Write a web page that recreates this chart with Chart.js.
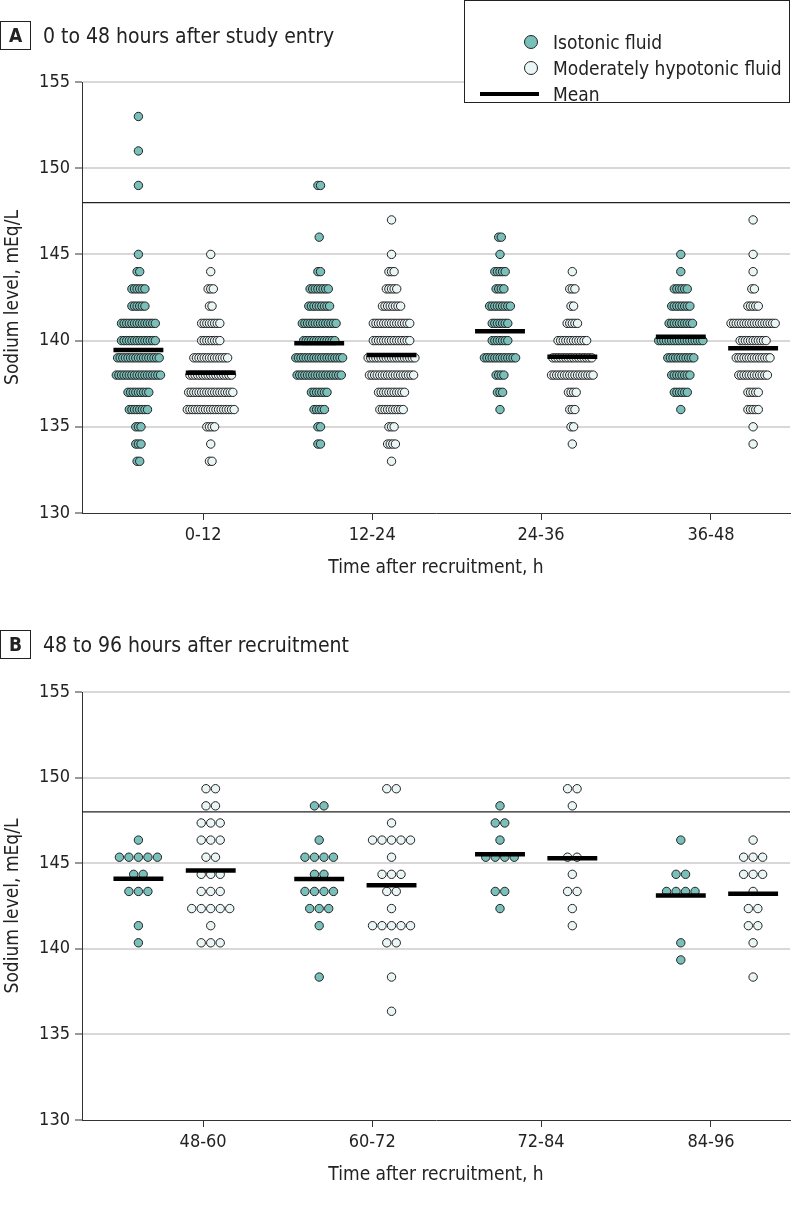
<!DOCTYPE html>
<html>
<head>
<meta charset="utf-8">
<script src="https://cdn.jsdelivr.net/npm/chart.js@4.4.0/dist/chart.umd.min.js"></script>
<style>
  body { margin: 0; background: #fff; }
  #wrap { position: relative; width: 798px; height: 1209px; font-family: 'Liberation Sans Narrow', 'DejaVu Sans Condensed', sans-serif; color: #222; }
  canvas { position: absolute; left: 0; }
  .tag { position: absolute; left: 0; width: 29px; height: 27px; border: 1px solid #222; font-weight: bold; font-size: 19px; text-align: center; line-height: 27px; }
  .title { position: absolute; left: 43px; font-size: 21px; line-height: 28px; }
  #legend { position: absolute; left: 464px; top: 0; width: 324px; height: 101px; border: 1px solid #222; background: #fff; z-index: 2; }
  .row { position: absolute; left: 0; height: 24px; font-size: 19px; line-height: 24px; }
  .row .txt { position: absolute; left: 88px; white-space: nowrap; }
  .dot { position: absolute; left: 59px; top: 5px; width: 12px; height: 12px; border: 1px solid #222; border-radius: 50%; }
  .bar { position: absolute; left: 15px; top: 10px; width: 59px; height: 4px; background: #000; }
</style>
</head>
<body>
<div id="wrap">
  <canvas id="chartA" width="798" height="600" style="top:0"></canvas>
  <canvas id="chartB" width="798" height="589" style="top:620px"></canvas>
  <div class="tag" style="top:21px">A</div>
  <div class="title" style="top:22px">0 to 48 hours after study entry</div>
  <div class="tag" style="top:630px">B</div>
  <div class="title" style="top:631px">48 to 96 hours after recruitment</div>
  <div id="legend">
    <div class="row" style="top:29px"><span class="dot" style="background:#79bfba"></span><span class="txt">Isotonic fluid</span></div>
    <div class="row" style="top:55px"><span class="dot" style="background:#eaf5f5"></span><span class="txt">Moderately hypotonic fluid</span></div>
    <div class="row" style="top:81px"><span class="bar"></span><span class="txt">Mean</span></div>
  </div>
</div>
<script>
// Sodium levels (mEq/L), counted per level
const groupsA = ['0-12', '12-24', '24-36', '36-48'];
const groupsB = ['48-60', '60-72', '72-84', '84-96'];
const yTicks = [130, 135, 140, 145, 150, 155];
const threshold = 148;

const levelsA = [153, 152, 151, 150, 149, 148, 147, 146, 145, 144, 143, 142, 141, 140, 139, 138, 137, 136, 135, 134, 133];
const isoA = [
  [1, 0, 1, 0, 1, 0, 0, 0, 1, 2, 6, 6, 14, 14, 17, 18, 9, 8, 3, 3, 2],
  [0, 0, 0, 0, 2, 0, 0, 1, 0, 2, 8, 9, 14, 13, 19, 18, 7, 5, 2, 2, 0],
  [0, 0, 0, 0, 0, 0, 0, 2, 1, 5, 4, 9, 7, 7, 13, 4, 3, 1, 0, 0, 0],
  [0, 0, 0, 0, 0, 0, 0, 0, 1, 1, 6, 8, 10, 18, 11, 8, 6, 1, 0, 0, 0]
];
const hypoA = [
  [0, 0, 0, 0, 0, 0, 0, 0, 1, 1, 3, 2, 8, 8, 14, 17, 18, 19, 4, 1, 2],
  [0, 0, 0, 0, 0, 0, 1, 0, 1, 3, 5, 8, 15, 15, 19, 18, 11, 10, 3, 4, 1],
  [0, 0, 0, 0, 0, 0, 0, 0, 0, 1, 3, 2, 5, 12, 16, 17, 4, 3, 2, 1, 0],
  [0, 0, 0, 0, 0, 0, 1, 0, 1, 1, 2, 5, 18, 11, 14, 12, 5, 5, 1, 1, 0]
];
const isoMeanA = [139.45, 139.84, 140.54, 140.23];
const hypoMeanA = [138.14, 139.17, 139.07, 139.55];

const levelsB = [149.35, 148.35, 147.35, 146.35, 145.35, 144.35, 143.35, 142.35, 141.35, 140.35, 139.35, 138.35, 137.35, 136.35];
const isoB = [
  [0, 0, 0, 1, 5, 2, 3, 0, 1, 1, 0, 0, 0, 0],
  [0, 2, 0, 1, 4, 2, 4, 3, 1, 0, 0, 1, 0, 0],
  [0, 1, 2, 1, 4, 0, 2, 1, 0, 0, 0, 0, 0, 0],
  [0, 0, 0, 1, 0, 2, 4, 0, 0, 1, 1, 0, 0, 0]
];
const hypoB = [
  [2, 2, 3, 3, 2, 3, 3, 5, 1, 3, 0, 0, 0, 0],
  [2, 0, 1, 5, 1, 3, 2, 1, 5, 2, 0, 1, 0, 1],
  [2, 1, 0, 0, 2, 1, 2, 1, 1, 0, 0, 0, 0, 0],
  [0, 0, 0, 1, 3, 3, 1, 2, 2, 1, 0, 1, 0, 0]
];
const isoMeanB = [144.09, 144.08, 145.52, 143.12];
const hypoMeanB = [144.58, 143.71, 145.29, 143.22];

// layout (x axis in units of one category spacing)
const tickPos = [0.158, 1.093, 2.027, 2.967];
const xMin = -0.512, xMax = 3.404;
const groupOffset = 0.2;
const meanHalf = 0.138;
const ISO_COLOR = '#79bfba';
const HYPO_COLOR = '#eaf5f5';
const FONT = "'Liberation Sans Narrow', 'DejaVu Sans Condensed', sans-serif";

// rows of dots centred on the group position
function swarm(levels, counts, center, step) {
  const pts = [];
  levels.forEach((v, k) => {
    const n = counts[k];
    for (let j = 0; j < n; j++) {
      pts.push({ x: center + (j - (n - 1) / 2) * step, y: v });
    }
  });
  return pts;
}

function buildDatasets(levels, iso, hypo, isoMean, hypoMean, step) {
  const sets = [];
  iso.forEach((counts, i) => {
    sets.push({
      type: 'scatter', order: 1,
      data: swarm(levels, counts, i - groupOffset, step),
      backgroundColor: ISO_COLOR, borderColor: '#222', borderWidth: 1, pointRadius: 4.2
    });
    sets.push({
      type: 'scatter', order: 1,
      data: swarm(levels, hypo[i], i + groupOffset, step),
      backgroundColor: HYPO_COLOR, borderColor: '#222', borderWidth: 1, pointRadius: 4.2
    });
  });
  [[isoMean, -groupOffset], [hypoMean, groupOffset]].forEach(([means, off]) => {
    means.forEach((m, i) => {
      sets.push({
        type: 'line', order: 0,
        data: [{ x: i + off - meanHalf, y: m }, { x: i + off + meanHalf, y: m }],
        borderColor: '#000', borderWidth: 4.5, pointRadius: 0, borderCapStyle: 'butt'
      });
    });
  });
  sets.push({
    type: 'line', order: 2,
    data: [{ x: xMin, y: threshold }, { x: xMax, y: threshold }],
    borderColor: '#222', borderWidth: 1.3, pointRadius: 0
  });
  return sets;
}

function makeChart(id, groups, datasets, padTop, padBottom) {
  return new Chart(document.getElementById(id).getContext('2d'), {
    type: 'scatter',
    data: { datasets: datasets },
    options: {
      responsive: false,
      animation: false,
      events: [],
      layout: { padding: { top: padTop, right: 8, bottom: padBottom, left: 0 } },
      plugins: { legend: { display: false }, tooltip: { enabled: false } },
      scales: {
        x: {
          type: 'linear', min: xMin, max: xMax,
          afterBuildTicks: s => { s.ticks = tickPos.map(v => ({ value: v })); },
          afterFit: s => { s.height = 80; },
          ticks: {
            callback: (v, i) => groups[i],
            autoSkip: false, maxRotation: 0, padding: 5,
            font: { family: FONT, size: 18 }, color: '#222'
          },
          grid: { drawOnChartArea: false, tickColor: '#333', tickLength: 7 },
          border: { color: '#333', width: 1 },
          title: {
            display: true, text: 'Time after recruitment, h',
            font: { family: FONT, size: 19 }, color: '#222', padding: { top: 0, bottom: 14 }
          }
        },
        y: {
          min: 130, max: 155,
          afterBuildTicks: s => { s.ticks = yTicks.map(v => ({ value: v })); },
          afterFit: s => { s.width = 82; },
          ticks: { font: { family: FONT, size: 18 }, color: '#222', padding: 5 },
          grid: {
            color: ctx => (ctx.tick && ctx.tick.value === 130) ? 'rgba(0,0,0,0)' : '#d8d8d8',
            lineWidth: 2, tickColor: '#333', tickLength: 7, tickWidth: 1
          },
          border: { color: '#333', width: 1 },
          title: {
            display: true, text: 'Sodium level, mEq/L',
            font: { family: FONT, size: 19 }, color: '#222', padding: { top: 2, bottom: 0 }
          }
        }
      }
    }
  });
}

const stepA = 2.6 / 180.8;
const stepB = 9.5 / 180.8;
makeChart('chartA', groupsA, buildDatasets(levelsA, isoA, hypoA, isoMeanA, hypoMeanA, stepA), 82, 7);
makeChart('chartB', groupsB, buildDatasets(levelsB, isoB, hypoB, isoMeanB, hypoMeanB, stepB), 72, 9);
</script>
</body>
</html>
